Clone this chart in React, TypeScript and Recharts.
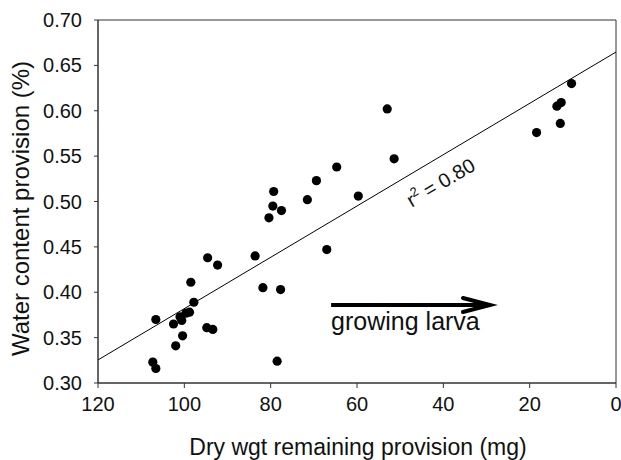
import React from "react";
import {
  ScatterChart,
  Scatter,
  XAxis,
  YAxis,
  ReferenceLine,
  ReferenceDot,
  ReferenceArea,
} from "recharts";

// dry weight of remaining provision (mg) and its water content, one entry per cell
const dryWeight = [
  97.8, 106.6, 102.5, 101.0, 100.6, 99.6, 98.8, 94.8, 93.4, 100.4, 102.0, 107.3, 106.6,
  98.5, 94.6, 92.3, 83.6, 81.8, 77.7, 78.5, 79.3, 79.5, 77.5, 80.4,
  53.0, 51.4, 64.7, 69.4, 71.5, 59.7, 67.0,
  10.3, 12.7, 13.7, 12.9, 18.4,
];
const waterContent = [
  0.389, 0.37, 0.365, 0.373, 0.369, 0.377, 0.378, 0.361, 0.359, 0.352, 0.341, 0.323, 0.316,
  0.411, 0.438, 0.43, 0.44, 0.405, 0.403, 0.324, 0.511, 0.495, 0.49, 0.482,
  0.602, 0.547, 0.538, 0.523, 0.502, 0.506, 0.447,
  0.63, 0.609, 0.605, 0.586, 0.576,
];

const xTicks = [0, 20, 40, 60, 80, 100, 120];
const yTicks = [0.3, 0.35, 0.4, 0.45, 0.5, 0.55, 0.6, 0.65, 0.7];

// regression fit ends (x = 120 and x = 0)
const fitLine = [
  { x: 120, y: 0.3254 },
  { x: 0, y: 0.6647 },
];
const fitLabel = { x: 39.8, y: 0.5143, text: "0.80" };

// "growing larva" arrow
const arrow = [
  { x: 66, y: 0.386 },
  { x: 29.2, y: 0.386 },
];
const arrowText = "growing larva";

const data = dryWeight.map((x, i) => ({ x, y: waterContent[i] }));

const font = "Arial, 'Liberation Sans', Helvetica, sans-serif";
const axisColor = "#333";
const textColor = "#111";

function Dot(props: any) {
  return <circle cx={props.cx} cy={props.cy} r={4.6} fill="#000" />;
}

function FitText(props: any) {
  const { cx, cy } = props;
  return (
    <text
      x={cx}
      y={cy}
      textAnchor="middle"
      fontSize={20}
      fontFamily={font}
      fill={textColor}
      transform={`rotate(-30.7, ${cx}, ${cy})`}
    >
      r
      <tspan dy={-8} fontSize={13}>
        2
      </tspan>
      <tspan dy={8}> = {fitLabel.text}</tspan>
    </text>
  );
}

function Arrow(props: any) {
  const { x1, y1, x2, y2 } = props;
  return (
    <g>
      <line x1={x1} y1={y1} x2={x2 - 3} y2={y2} stroke="#000" strokeWidth={4} />
      <path
        d={`M${x2 - 27},${y2 - 7} L${x2},${y2} L${x2 - 27},${y2 + 7}`}
        fill="none"
        stroke="#000"
        strokeWidth={4}
        strokeLinecap="round"
        strokeLinejoin="miter"
      />
      <text x={x1} y={y1 + 25} fontSize={25} fontFamily={font} fill={textColor}>
        {arrowText}
      </text>
    </g>
  );
}

function XTitle(props: any) {
  const vb = props.viewBox;
  return (
    <text
      x={vb.x + vb.width / 2 + 1}
      y={vb.y + 72}
      textAnchor="middle"
      fontSize={23}
      fontFamily={font}
      fill={textColor}
    >
      Dry wgt remaining provision (mg)
    </text>
  );
}

function YTitle(props: any) {
  const vb = props.viewBox;
  const cx = vb.x + 29;
  const cy = vb.y + vb.height / 2 + 7;
  return (
    <text
      x={cx}
      y={cy}
      textAnchor="middle"
      fontSize={24}
      fontFamily={font}
      fill={textColor}
      transform={`rotate(-90, ${cx}, ${cy})`}
    >
      Water content provision (%)
    </text>
  );
}

export default function App() {
  return (
    <div style={{ position: "absolute", left: 0, top: 0, background: "#fff" }}>
      <ScatterChart
        width={621}
        height={460}
        margin={{ top: 20, right: 5, bottom: 0, left: 0 }}
        style={{ fontFamily: font }}
      >
        <XAxis
          type="number"
          dataKey="x"
          domain={[0, 120]}
          ticks={xTicks}
          reversed
          height={77}
          stroke={axisColor}
          tickSize={5}
          tickMargin={9}
          tick={{ fontSize: 20, fill: textColor, fontFamily: font }}
          label={<XTitle />}
        />
        <YAxis
          type="number"
          dataKey="y"
          domain={[0.3, 0.7]}
          ticks={yTicks}
          width={98}
          stroke={axisColor}
          tickSize={4}
          tickMargin={12}
          tickFormatter={(v: number) => v.toFixed(2)}
          tick={{ fontSize: 20, fill: textColor, fontFamily: font }}
          label={<YTitle />}
        />
        <ReferenceArea
          x1={0}
          x2={120}
          y1={0.3}
          y2={0.7}
          fill="none"
          stroke={axisColor}
          strokeWidth={1}
        />
        <ReferenceLine segment={fitLine} stroke="#000" strokeWidth={1} />
        <ReferenceLine segment={arrow} stroke="#000" shape={<Arrow />} />
        <ReferenceDot x={fitLabel.x} y={fitLabel.y} r={0} shape={<FitText />} />
        <Scatter data={data} shape={<Dot />} isAnimationActive={false} />
      </ScatterChart>
    </div>
  );
}
